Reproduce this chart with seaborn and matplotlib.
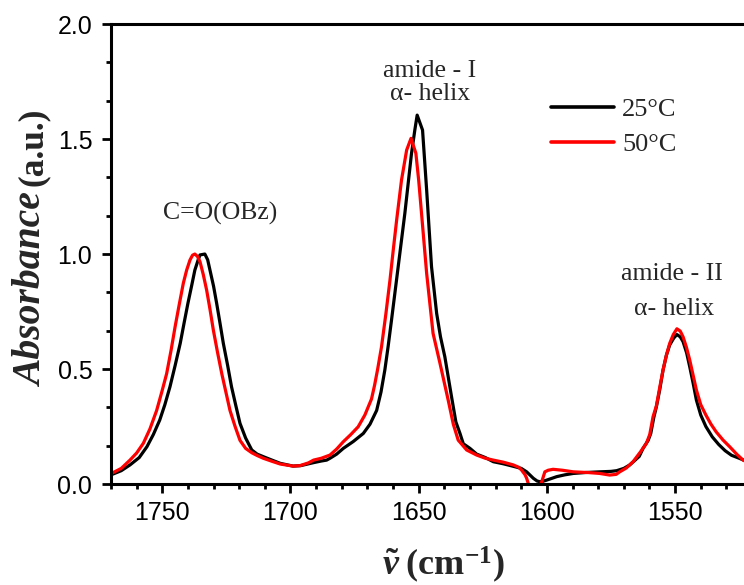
import matplotlib
matplotlib.use("Agg")
import matplotlib.pyplot as plt
import pandas as pd
import seaborn as sns
from matplotlib.ticker import MultipleLocator, AutoMinorLocator, FormatStrFormatter

# FTIR spectra: wavenumber (cm-1) and absorbance (a.u.) at two temperatures
wn_25 = [1770, 1766, 1762.6, 1759, 1756, 1753.5, 1751, 1749, 1747, 1745,
         1743, 1741.5, 1740, 1738.5, 1737.3, 1736, 1735.3, 1733.4, 1732.3, 1731.4,
         1730, 1728.8, 1727.5, 1726.2, 1724.5, 1723, 1721.3, 1719.7, 1717.5, 1715.1,
         1713, 1710.6, 1707, 1704, 1699, 1696, 1691, 1688, 1685.9, 1684.6,
         1682, 1679.4, 1675.5, 1671.6, 1669, 1666.4, 1664.7, 1663.2, 1661.9, 1660.6,
         1658.0, 1655.4, 1652.8, 1651.5, 1650.6, 1648.5, 1646.9, 1645.0, 1643.0, 1641.5,
         1639.8, 1637.2, 1635.5, 1633.9, 1632.6, 1630.0, 1627.4, 1624, 1620.9, 1617,
         1613.1, 1610, 1607.9, 1606.5, 1605.3, 1603.8, 1602.7, 1601.5, 1600.1, 1598,
         1596.2, 1593, 1589.7, 1585, 1579.4, 1575, 1572.8, 1570, 1567.7, 1564,
         1562.5, 1560.5, 1559.5, 1558.3, 1557.3, 1556, 1554.7, 1553.4, 1552.1, 1550.5,
         1549.3, 1548, 1546.9, 1545.5, 1544.3, 1543, 1541.7, 1540, 1538, 1535.5,
         1533, 1530.5, 1528, 1525, 1523.5, 1520]
abs_25 = [0.040, 0.058, 0.083, 0.115, 0.162, 0.215, 0.278, 0.345, 0.423, 0.515,
          0.612, 0.700, 0.786, 0.865, 0.930, 0.975, 0.996, 1.000, 0.975, 0.930,
          0.860, 0.786, 0.700, 0.612, 0.515, 0.423, 0.340, 0.264, 0.200, 0.148,
          0.130, 0.119, 0.103, 0.090, 0.078, 0.080, 0.093, 0.100, 0.104, 0.112,
          0.130, 0.155, 0.185, 0.220, 0.260, 0.320, 0.400, 0.496, 0.600, 0.713,
          0.945, 1.177, 1.438, 1.540, 1.604, 1.539, 1.278, 0.945, 0.742, 0.640,
          0.553, 0.380, 0.270, 0.220, 0.175, 0.155, 0.130, 0.115, 0.097, 0.088,
          0.077, 0.068, 0.053, 0.038, 0.025, 0.013, 0.010, 0.012, 0.017, 0.025,
          0.032, 0.040, 0.046, 0.050, 0.053, 0.055, 0.058, 0.068, 0.083, 0.120,
          0.155, 0.190, 0.220, 0.290, 0.336, 0.410, 0.496, 0.560, 0.605, 0.635,
          0.650, 0.640, 0.619, 0.570, 0.510, 0.440, 0.365, 0.300, 0.250, 0.205,
          0.172, 0.145, 0.125, 0.112, 0.105, 0.090]

wn_50 = [1770, 1766, 1762.6, 1760, 1757.4, 1754.8, 1752.2, 1750.2, 1748.3, 1746.6,
         1745.0, 1743.4, 1741.8, 1740.5, 1739.2, 1738.2, 1737.3, 1736.3, 1735.3, 1734,
         1732.7, 1731.4, 1730.1, 1728.5, 1726.8, 1725.2, 1723.6, 1721.6, 1719.7, 1717.5,
         1715.1, 1713, 1710.6, 1707, 1704, 1699, 1696.3, 1693, 1691, 1688,
         1684.6, 1682, 1679.4, 1676.5, 1673.6, 1671, 1668.4, 1667.2, 1666, 1664.5,
         1662.8, 1661.2, 1659.9, 1658.6, 1656.7, 1654.7, 1653.0, 1651.1, 1650, 1648.9,
         1646.9, 1645.6, 1644.4, 1641.7, 1640, 1638.5, 1636.5, 1634.6, 1632.6, 1631.3,
         1627.4, 1624, 1620.9, 1617, 1613.1, 1611, 1609.9, 1608.5, 1607.9, 1607.2,
         1606.5, 1605.5, 1604, 1603, 1602.3, 1600.8, 1599.5, 1597.6, 1594, 1589.7,
         1584, 1579.4, 1575.5, 1573, 1571.6, 1569, 1566.4, 1563.5, 1561.2, 1559.9,
         1558.6, 1557.3, 1556, 1554.7, 1553.4, 1552.1, 1550.7, 1549.3, 1548, 1546.9,
         1545.6, 1544.3, 1541.7, 1540, 1538, 1536, 1534, 1531.3, 1528.7, 1526,
         1523.5, 1520]
abs_50 = [0.045, 0.068, 0.104, 0.135, 0.177, 0.240, 0.320, 0.400, 0.480, 0.580,
          0.684, 0.780, 0.873, 0.930, 0.974, 0.995, 1.000, 0.990, 0.967, 0.910,
          0.843, 0.760, 0.670, 0.575, 0.480, 0.400, 0.320, 0.250, 0.190, 0.155,
          0.136, 0.124, 0.112, 0.098, 0.087, 0.078, 0.080, 0.092, 0.104, 0.112,
          0.126, 0.152, 0.184, 0.215, 0.249, 0.300, 0.370, 0.430, 0.500, 0.597,
          0.740, 0.887, 1.020, 1.148, 1.322, 1.452, 1.503, 1.438, 1.320, 1.177,
          0.916, 0.780, 0.655, 0.525, 0.440, 0.365, 0.260, 0.191, 0.165, 0.148,
          0.126, 0.112, 0.104, 0.095, 0.083, 0.073, 0.061, 0.040, 0.025, 0.000,
          -0.040, -0.100, -0.150, -0.080, 0.000, 0.053, 0.060, 0.064, 0.060, 0.053,
          0.050, 0.046, 0.039, 0.042, 0.053, 0.070, 0.097, 0.140, 0.177, 0.215,
          0.293, 0.340, 0.420, 0.496, 0.560, 0.612, 0.650, 0.675, 0.665, 0.640,
          0.595, 0.539, 0.409, 0.345, 0.300, 0.260, 0.227, 0.191, 0.162, 0.130,
          0.104, 0.085]

temperatures = ["25°C", "50°C"]
line_colors = ["black", "red"]

# Band assignments: (text, wavenumber, absorbance of the text baseline)
band_labels = ["C=O(OBz)", "amide - I", "α- helix", "amide - II", "α- helix"]
band_wn = [1727.5, 1645.6, 1645.6, 1551.3, 1550.5]
band_abs = [1.151, 1.770, 1.670, 0.887, 0.735]

df = pd.concat([
    pd.DataFrame({"wavenumber": wn_25, "absorbance": abs_25, "T": temperatures[0]}),
    pd.DataFrame({"wavenumber": wn_50, "absorbance": abs_50, "T": temperatures[1]}),
], ignore_index=True)

sns.set_style("ticks")
plt.rcParams.update({
    "font.family": ["Liberation Sans", "DejaVu Sans"],
    "mathtext.fontset": "custom",
    "mathtext.rm": "Liberation Serif:bold",
    "mathtext.bf": "Liberation Serif:bold",
    "mathtext.it": "Liberation Serif:italic:bold",
    "axes.linewidth": 2.2,
    "xtick.major.width": 2.0,
    "ytick.major.width": 2.0,
    "xtick.minor.width": 2.0,
    "ytick.minor.width": 2.0,
    "xtick.major.size": 6.5,
    "ytick.major.size": 6.5,
    "xtick.minor.size": 3.8,
    "ytick.minor.size": 3.8,
    "xtick.color": "black",
    "ytick.color": "black",
    "axes.edgecolor": "black",
})

W, H = 744, 585
fig = plt.figure(figsize=(W / 100, H / 100), dpi=100)
ax = fig.add_axes([0.1492, 0.1726, 0.8616, 0.7863])

sns.lineplot(data=df, x="wavenumber", y="absorbance", hue="T",
             hue_order=temperatures, palette=line_colors,
             estimator=None, sort=False, linewidth=2.3, ax=ax)

ax.set_xlim(1770, 1520)
ax.set_ylim(0, 2.0)
ax.xaxis.set_major_locator(MultipleLocator(50))
ax.xaxis.set_minor_locator(MultipleLocator(10))
ax.yaxis.set_major_locator(MultipleLocator(0.5))
ax.yaxis.set_minor_locator(AutoMinorLocator(3))
ax.yaxis.set_major_formatter(FormatStrFormatter("%.1f"))
ax.tick_params(axis="both", which="both", direction="out", labelsize=18)
ax.tick_params(axis="x", pad=6)
ax.tick_params(axis="y", pad=7)
ax.spines["right"].set_visible(False)

ax.set_xlabel(r"$\tilde{\nu}\;\mathrm{(cm^{-1})}$", fontsize=26)
ax.xaxis.set_label_coords(0.518, -0.132)
ax.set_ylabel("")

# y-axis title: bold-italic quantity followed by bold unit
fig.text(42 / W, 1 - 290 / H, "Absorbance", rotation=90, rotation_mode="anchor",
         ha="center", va="baseline", fontsize=28.5, fontweight="bold",
         fontstyle="italic", family="Liberation Serif")
fig.text(42 / W, 1 - 147 / H, "(a.u.)", rotation=90, rotation_mode="anchor",
         ha="center", va="baseline", fontsize=25.5, fontweight="bold",
         family="Liberation Serif")

for txt, x, y in zip(band_labels, band_wn, band_abs):
    ax.text(x, y, txt, ha="center", va="baseline", fontsize=18.5,
            family=["Liberation Serif", "DejaVu Serif"])

handles, labels = ax.get_legend_handles_labels()
leg = ax.legend(handles, labels, loc="upper left",
                bbox_to_anchor=(551 / W, 1 - 98 / H),
                bbox_transform=fig.transFigure, frameon=False,
                borderpad=0, borderaxespad=0, handlelength=2.4,
                handletextpad=0.3, labelspacing=0.42,
                prop={"family": "Liberation Serif", "size": 19})
for line in leg.get_lines():
    line.set_linewidth(2.6)

fig.savefig("out.png", dpi=100)
